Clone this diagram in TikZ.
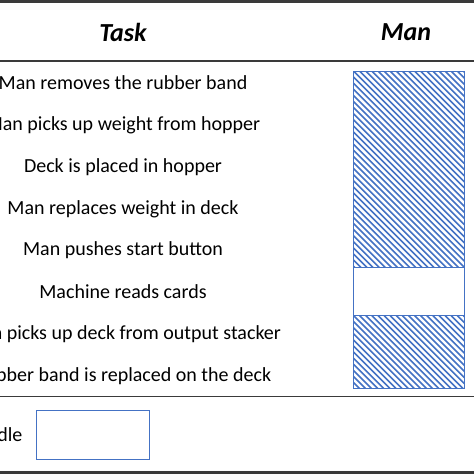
\documentclass[tikz,border=0pt]{standalone}
\usepackage{fontspec}
\setmainfont{Carlito}
\definecolor{barblue}{HTML}{4472C4}
\definecolor{rule}{HTML}{3A3A3A}
\begin{document}
\begin{tikzpicture}[x=1pt,y=-1pt,
  every node/.style={inner sep=0pt},
  task/.style={font=\fontsize{20}{20}\selectfont, anchor=center},
  head/.style={font=\fontsize{26}{26}\selectfont\bfseries\itshape},
  hatched/.style={draw=barblue, line width=1.2pt, rectangle, anchor=north west,
    path picture={
      \foreach \k in {-40,...,40}{
        \draw[barblue, line width=1.6pt]
          ([xshift=\k*6.1pt]path picture bounding box.north west) -- ++(200pt,-200pt);
      }}},
  plainbox/.style={draw=barblue, line width=1.2pt, rectangle, anchor=north west, fill=white},
  hrule/.style={draw=rule}]
\useasboundingbox (0,0) rectangle (474,474);
\clip (0,0) rectangle (474,474);
\fill[white] (0,0) rectangle (474,474);
% rules
\coordinate (t0) at (0,1.5); \coordinate (t1) at (474,1.5);
\coordinate (h0) at (0,61); \coordinate (h1) at (474,61);
\coordinate (b0) at (0,396.5); \coordinate (b1) at (474,396.5);
\coordinate (e0) at (0,472.5); \coordinate (e1) at (474,472.5);
\draw[hrule, line width=3pt] (t0) -- (t1);
\draw[hrule, line width=1.6pt] (h0) -- (h1);
\draw[hrule, line width=1.6pt] (b0) -- (b1);
\draw[hrule, line width=3pt] (e0) -- (e1);
% headers
\node[head] (htask) at (123,32) {Task};
\node[head] (hman) at (406,32) {Man};
% tasks
\node[task] (r1) at (123,83) {Man removes the rubber band};
\node[task] (r2) at (123,125) {Man picks up weight from hopper};
\node[task] (r3) at (123,167) {Deck is placed in hopper};
\node[task] (r4) at (123,209) {Man replaces weight in deck};
\node[task] (r5) at (123,250) {Man pushes start button};
\node[task] (r6) at (123,292) {Machine reads cards};
\node[task] (r7) at (123,334) {Man picks up deck from output stacker};
\node[task] (r8) at (123,376) {Rubber band is replaced on the deck};
% bars
\node[hatched, minimum width=111pt, minimum height=196pt] (bar1) at (353,70.5) {};
\node[plainbox, minimum width=111pt, minimum height=48.5pt] (bar2) at (353,266.5) {};
\node[hatched, minimum width=111pt, minimum height=73pt] (bar3) at (353,315) {};
% legend
\node[task, anchor=east] (idle) at (22.5,435) {Idle};
\node[plainbox, minimum width=113pt, minimum height=49pt] (idlebox) at (35.5,410) {};
\end{tikzpicture}
\end{document}
